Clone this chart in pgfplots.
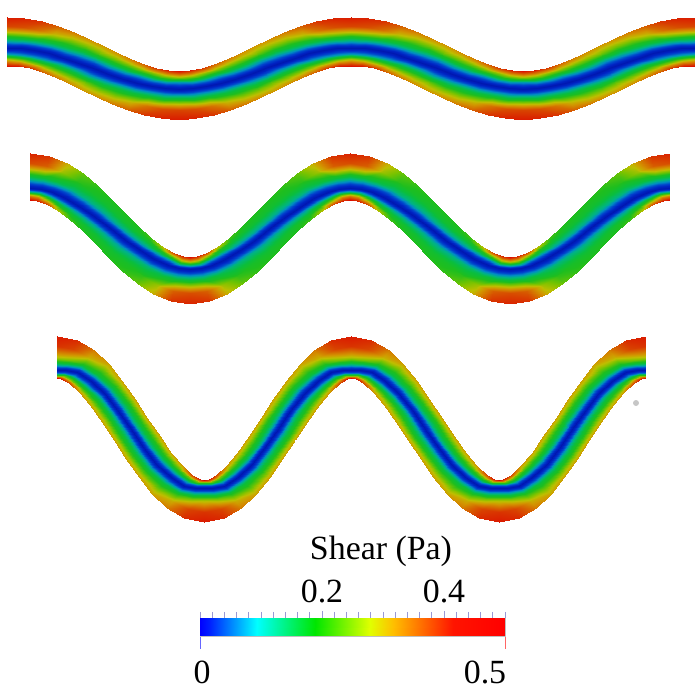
\documentclass[border=0pt]{standalone}
\usepackage{fontspec}
\setmainfont{Liberation Serif}
\usepackage{pgfplots}
\usepackage{pgfplotstable}
\pgfplotsset{compat=1.18}

\newcommand{\lab}{\fontsize{34}{40}\selectfont}

% one quarter wave of each channel: crest to mid slope, 7 points across, 7 stations
\pgfplotstableread{
dx dy v
0 -24.5 .47
0 -15.2 .42
0 -4.4 .18
0 6.5 .01
0 12.8 .11
0 19.1 .31
0 24.5 .48
17.5 -23.4 .46
16.3 -14.2 .41
15.0 -3.5 .18
13.6 7.2 .01
12.8 13.5 .11
12.0 19.8 .30
11.3 25.2 .47
34.6 -20.2 .44
32.4 -11.4 .37
29.9 -1.2 .17
27.4 9.1 .01
25.8 15.5 .11
24.3 21.9 .27
22.9 27.4 .44
51.2 -15.2 .39
48.3 -7.0 .30
44.9 2.6 .15
41.6 12.2 .01
39.3 18.8 .11
37.0 25.4 .25
35.0 31.0 .39
67.1 -9.0 .36
63.8 -1.4 .26
60.0 7.6 .14
56.2 16.5 .01
53.3 23.3 .12
50.4 30.2 .25
47.9 36.0 .36
82.4 -2.1 .34
79.0 5.0 .25
75.1 13.3 .13
71.2 21.5 .01
67.8 28.7 .13
64.3 35.9 .25
61.4 42.1 .34
97.1 5.0 .33
93.8 11.6 .25
90.0 19.3 .12
86.25 27 .01
82.5 34.7 .12
78.7 42.4 .25
75.4 49.0 .33
}\chone

\pgfplotstableread{
dx dy v
0 -23.5 .46
0 -13.2 .41
0 -1.1 .18
0 11 .01
0 15.4 .14
0 19.8 .36
0 23.5 .49
19.3 -20.9 .44
16.7 -11.0 .39
13.7 .5 .18
10.6 12.0 .01
9.5 16.3 .14
8.4 20.7 .34
7.4 24.4 .47
37.1 -13.6 .31
32.7 -4.9 .27
27.5 5.3 .16
22.4 15.4 .01
20.2 19.6 .11
18.1 23.8 .25
16.2 27.4 .42
53.1 -3.1 .24
47.8 4.3 .21
41.6 12.9 .14
35.5 21.5 .01
32.5 25.7 .10
29.5 29.8 .20
26.9 33.4 .29
67.9 9.4 .21
62.4 15.6 .19
56.1 22.8 .13
49.7 30.0 .01
45.9 34.4 .11
42.1 38.7 .18
38.8 42.4 .22
81.8 23.0 .20
76.7 28.2 .18
70.7 34.3 .12
64.7 40.4 .01
60.1 45.1 .12
55.5 49.8 .18
51.6 53.8 .20
95.3 36.7 .20
90.7 41.2 .18
85.4 46.5 .12
80 51.75 .01
74.6 57.0 .12
69.3 62.3 .18
64.7 66.8 .20
}\chtwo

\pgfplotstableread{
dx dy v
0 -21 .47
0 -10.8 .44
0 1.1 .27
0 13 .01
0 15.8 .09
0 18.6 .26
0 21 .49
20.0 -17.0 .45
16.4 -8.0 .42
12.3 2.5 .25
8.1 12.9 .01
6.8 16.1 .09
5.6 19.2 .26
4.5 21.9 .48
37.2 -6.8 .36
32.1 -.3 .31
26.3 7.4 .20
20.2 15.4 .01
17.4 18.9 .11
14.5 22.8 .25
11.9 26.1 .42
51.9 7.2 .32
46.4 12.2 .25
40.1 18.1 .16
33.7 23.9 .01
29.5 27.8 .12
25.3 31.7 .23
21.7 35.0 .33
65.3 23.8 .32
60.0 27.7 .23
54.0 32.3 .14
47.9 36.9 .01
42.6 40.8 .13
37.4 44.8 .23
32.9 48.2 .32
78.0 42.2 .32
72.9 45.6 .22
67.0 49.6 .13
61.1 53.6 .01
55.3 57.4 .13
49.6 61.3 .22
44.7 64.6 .32
90.4 61.1 .32
85.4 64.4 .22
79.5 68.2 .13
73.6 72 .01
67.8 75.8 .13
61.9 79.6 .22
56.9 82.9 .32
}\chthree

\pgfplotsset{
  colormap={dull}{
    rgb255(0)=(0,20,170) rgb255(8)=(0,35,195) rgb255(14)=(0,70,205)
    rgb255(20)=(0,140,195) rgb255(26)=(0,180,130) rgb255(33)=(10,190,60)
    rgb255(40)=(30,190,30) rgb255(50)=(120,195,0) rgb255(58)=(190,190,0)
    rgb255(66)=(210,150,0) rgb255(80)=(215,85,0) rgb255(100)=(220,0,0)},
  colormap={shear}{
    rgb255(0)=(0,0,255) rgb255(3)=(0,30,255) rgb255(18.6)=(0,255,255)
    rgb255(37.7)=(0,230,0) rgb255(55.7)=(225,255,0) rgb255(63.4)=(255,190,0)
    rgb255(83)=(255,20,0) rgb255(100)=(255,0,0)},
  wave/.style={surf, shader=interp, mesh/cols=7, point meta=explicit,
    point meta min=0, point meta max=0.5},
}

% table, x of crest, x factor, y of crest, y factor
\newcommand{\piece}[5]{\addplot[wave] table[x expr=#2+(#3)*\thisrow{dx}, y expr=#4+(#5)*\thisrow{dy}, meta=v] {#1};}
% table, x of first crest, half period, y of crest, y of trough
\newcommand{\channel}[5]{%
  \piece{#1}{#2}{1}{#4}{1}
  \piece{#1}{#2+#3}{-1}{#5}{-1}
  \piece{#1}{#2+#3}{1}{#5}{-1}
  \piece{#1}{#2+2*#3}{-1}{#4}{1}
  \piece{#1}{#2+2*#3}{1}{#4}{1}
  \piece{#1}{#2+3*#3}{-1}{#5}{-1}
  \piece{#1}{#2+3*#3}{1}{#5}{-1}
  \piece{#1}{#2+4*#3}{-1}{#4}{1}
}

\begin{document}
\begin{tikzpicture}
  \path[use as bounding box] (0,0) rectangle (700bp,700bp);
  \begin{axis}[
    at={(0,0)}, anchor=south west,
    width=700bp, height=700bp, scale only axis,
    xmin=0, xmax=700, ymin=0, ymax=700, y dir=reverse,
    hide axis, colormap name=dull,
  ]
    \channel{\chone}{7}{172}{41}{95}
    \channel{\chtwo}{30}{160}{176.5}{280}
    \channel{\chthree}{57}{147.25}{357}{501}
    \fill[gray!45] (axis cs:636,403) circle (3bp);
    \node[font=\lab] at (axis cs:381,551) {Shear (Pa)};
    \node[font=\lab] at (axis cs:202,672) {0};
    \node[font=\lab] at (axis cs:485,672) {0.5};
    \draw[blue!60, line width=1bp] (axis cs:200,637) -- (axis cs:200,649);
    \draw[red!60, line width=1bp] (axis cs:505,637) -- (axis cs:505,649);
  \end{axis}
  % colour scale
  \begin{axis}[
    at={(200bp,64bp)}, anchor=south west,
    width=305bp, height=18bp, scale only axis,
    xmin=0, xmax=0.5, ymin=0, ymax=1,
    colormap name=shear,
    axis line style={draw=black!25},
    ytick=\empty,
    xtick={0.2,0.4}, minor xtick={0,0.02,...,0.5},
    xtick pos=upper, xticklabel pos=upper,
    tick align=outside,
    major tick length=7bp, minor tick length=6bp,
    tick style={draw=black!40!blue!40, line width=0.8bp},
    x tick label style={font=\lab, /pgf/number format/assume math mode=true},
    xticklabel shift=4bp,
  ]
    \addplot[surf, shader=interp, mesh/cols=2, point meta=x,
      point meta min=0, point meta max=0.5]
      coordinates {(0,0) (0.5,0) (0,1) (0.5,1)};
  \end{axis}
\end{tikzpicture}
\end{document}
